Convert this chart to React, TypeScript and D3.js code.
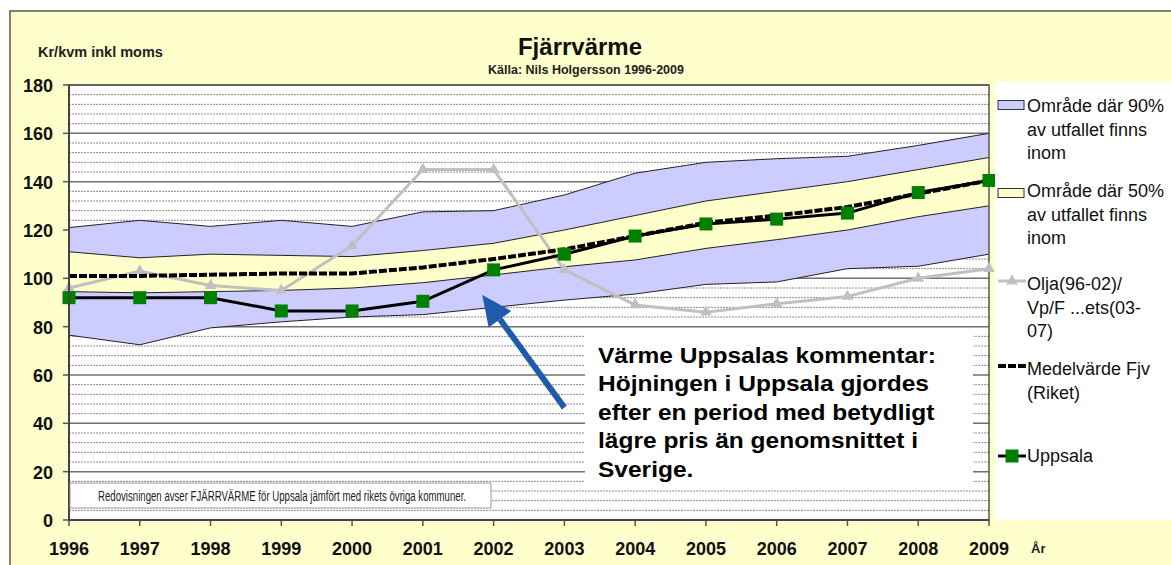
import React from "react";
import * as d3 from "d3";

const years = [1996, 1997, 1998, 1999, 2000, 2001, 2002, 2003, 2004, 2005, 2006, 2007, 2008, 2009];
const p95 = [121, 124, 121.5, 124, 121.5, 127.5, 128, 134.5, 143.5, 148, 149.5, 150.5, 155, 160];
const p75 = [111, 108.5, 110, 109.5, 109, 111.5, 114.5, 120, 126, 132, 136, 140, 145, 150];
const p25 = [94.5, 94, 94.5, 95, 96, 98.2, 101.4, 104.8, 107.6, 112.4, 116, 120, 125.5, 130];
const p5 = [76.5, 72.5, 79.5, 82, 84, 85, 88, 91, 93.5, 97.5, 98.5, 104, 105, 110];
const medel = [101, 101, 101.5, 102, 102, 104.5, 108, 112, 117.5, 123, 126, 129.5, 135, 140.5];
const uppsala = [92, 92, 92, 86.5, 86.5, 90.5, 103.5, 110, 117.5, 122.5, 124.5, 127, 135.5, 140.5];
const olja = [96, 103, 97, 95, 113.5, 145, 145, 103.5, 89, 86, 89.5, 92.5, 100, 104];
const yTicks = [0, 20, 40, 60, 80, 100, 120, 140, 160, 180];

const legendItems = [
  { key: "band90", lines: ["Område där 90%", "av utfallet finns", "inom"] },
  { key: "band50", lines: ["Område där 50%", "av utfallet finns", "inom"] },
  { key: "olja", lines: ["Olja(96-02)/", "Vp/F ...ets(03-", "07)"] },
  { key: "medel", lines: ["Medelvärde Fjv", "(Riket)"] },
  { key: "uppsala", lines: ["Uppsala"] },
];
const commentLines = [
  "Värme Uppsalas kommentar:",
  "Höjningen i Uppsala gjordes",
  "efter en period med betydligt",
  "lägre pris än genomsnittet i",
  "Sverige.",
];
const noteText = "Redovisningen avser FJÄRRVÄRME för Uppsala jämfört med rikets övriga kommuner.";

const W = 1171, H = 565;
const LAV = "#CCCCFF", YEL = "#FFFFCC", BG = "#FFFFCC";
const FONT = "'Liberation Sans', Arial, sans-serif";

export default function App() {
  const x = d3.scaleLinear().domain([1996, 2009]).range([69, 989]);
  const y = d3.scaleLinear().domain([0, 180]).range([520, 85]);
  const idx = years.map((_, i) => i);
  const band = (lo: number[], hi: number[]) =>
    d3.area<number>().x((i) => x(years[i])).y0((i) => y(lo[i])).y1((i) => y(hi[i]))(idx) || "";
  const line = (v: number[]) => d3.line<number>().x((i) => x(years[i])).y((i) => y(v[i]))(idx) || "";
  const minor = d3.range(0, 181, 4).filter((v) => v % 20 !== 0);
  const tri = d3.symbol().type(d3.symbolTriangle).size(60)() || "";

  const tipX = x(2001.84), tipY = y(93.1);
  const tailX = x(2003.0), tailY = y(46.5);
  const ang = Math.atan2(tipY - tailY, tipX - tailX);
  const headLen = 30, headW = 14;
  const bx = tipX - headLen * Math.cos(ang), by = tipY - headLen * Math.sin(ang);
  const px = -Math.sin(ang), py = Math.cos(ang);

  const legendY = [112, 197, 290, 375, 462];
  const legendSym = [105, 193, 281, 366, 456];

  return (
    <svg width={W} height={H} style={{ position: "absolute", left: 0, top: 0 }} fontFamily={FONT}>
      <rect x={0} y={0} width={W} height={H} fill="#fff" />
      <rect x={10} y={11} width={W} height={H} fill={BG} stroke="#555" strokeWidth={1.5} />
      <rect x={x(1996)} y={y(180)} width={x(2009) - x(1996)} height={y(0) - y(180)} fill="#fff" />
      {minor.map((v) => (
        <line key={"m" + v} x1={x(1996)} x2={x(2009)} y1={y(v)} y2={y(v)} stroke="#8a8a8a" strokeWidth={1} strokeDasharray="2,1" />
      ))}
      {yTicks.map((v) => (
        <line key={"g" + v} x1={x(1996)} x2={x(2009)} y1={y(v)} y2={y(v)} stroke="#6f6f6f" strokeWidth={1.5} />
      ))}
      <path d={band(p5, p95)} fill={LAV} />
      <path d={band(p25, p75)} fill={YEL} />
      {[p5, p25, p75, p95].map((v, k) => (
        <path key={"b" + k} d={line(v)} fill="none" stroke="#222" strokeWidth={1} />
      ))}
      <rect x={x(1996)} y={y(180)} width={x(2009) - x(1996)} height={y(0) - y(180)} fill="none" stroke="#555" strokeWidth={1.5} />
      <path d={line(olja)} fill="none" stroke="#C0C0C0" strokeWidth={3} />
      {olja.map((v, i) => (
        <path key={"t" + i} d={tri} transform={`translate(${x(years[i])},${y(v)})`} fill="#C0C0C0" />
      ))}
      <path d={line(medel)} fill="none" stroke="#000" strokeWidth={4} strokeDasharray="8,2" />
      <path d={line(uppsala)} fill="none" stroke="#000" strokeWidth={3} />
      {uppsala.map((v, i) => (
        <rect key={"u" + i} x={x(years[i]) - 6.5} y={y(v) - 6.5} width={13} height={13} fill="#008000" />
      ))}
      {yTicks.map((v) => (
        <g key={"yt" + v}>
          <line x1={x(1996) - 6} x2={x(1996)} y1={y(v)} y2={y(v)} stroke="#555" strokeWidth={1.5} />
          <text x={53} y={y(v) + 7} textAnchor="end" fontSize={18} fontWeight="bold" fill="#111">{v}</text>
        </g>
      ))}
      {years.map((yr) => (
        <g key={"xt" + yr}>
          <line x1={x(yr)} x2={x(yr)} y1={y(0)} y2={y(0) + 6} stroke="#555" strokeWidth={1.5} />
          <text x={x(yr)} y={555} textAnchor="middle" fontSize={18} fontWeight="bold" fill="#111">{yr}</text>
        </g>
      ))}
      <line x1={x(1996)} x2={x(2009)} y1={y(0)} y2={y(0)} stroke="#444" strokeWidth={2} />
      <line x1={x(1996)} x2={x(1996)} y1={y(0)} y2={y(180)} stroke="#444" strokeWidth={2} />
      <text x={1031} y={553} fontSize={13} fontWeight="bold" fill="#222">År</text>
      <text x={580} y={55} textAnchor="middle" fontSize={24} fontWeight="bold" fill="#111">Fjärrvärme</text>
      <text x={586} y={74} textAnchor="middle" fontSize={12.5} fontWeight="bold" fill="#222">Källa: Nils Holgersson 1996-2009</text>
      <text x={38} y={57} fontSize={14.5} fontWeight="bold" fill="#222">Kr/kvm inkl moms</text>
      <rect x={585} y={328} width={388} height={154} fill="#fff" />
      <g transform="translate(598,0) scale(1.115,1)">
        {commentLines.map((t, i) => (
          <text key={"c" + i} x={0} y={363 + i * 28.4} fontSize={22} fontWeight="bold" fill="#000">{t}</text>
        ))}
      </g>
      <rect x={70} y={483} width={421} height={25} fill="#fff" stroke="#999" strokeWidth={1} />
      <text x={98} y={500.5} fontSize={14} fill="#222" textLength={368} lengthAdjust="spacingAndGlyphs">{noteText}</text>
      <line x1={tailX} y1={tailY} x2={bx} y2={by} stroke="#1F5BAA" strokeWidth={6} />
      <path d={`M${tipX},${tipY}L${bx + px * headW},${by + py * headW}L${bx - px * headW},${by - py * headW}Z`} fill="#1F5BAA" />
      <rect x={995} y={82} width={W - 995} height={438} fill="#fff" />
      {legendItems.map((it, k) => (
        <g key={it.key}>
          {it.key === "band90" && <rect x={998} y={legendSym[k] - 4.5} width={26} height={9} fill={LAV} stroke="#333" strokeWidth={1} />}
          {it.key === "band50" && <rect x={998} y={legendSym[k] - 4.5} width={26} height={9} fill={YEL} stroke="#333" strokeWidth={1} />}
          {it.key === "olja" && (
            <g>
              <line x1={998} x2={1026} y1={legendSym[k]} y2={legendSym[k]} stroke="#C0C0C0" strokeWidth={3} />
              <path d={tri} transform={`translate(1012,${legendSym[k]})`} fill="#C0C0C0" />
            </g>
          )}
          {it.key === "medel" && <line x1={998} x2={1026} y1={legendSym[k]} y2={legendSym[k]} stroke="#000" strokeWidth={4} strokeDasharray="8,2" />}
          {it.key === "uppsala" && (
            <g>
              <line x1={998} x2={1026} y1={legendSym[k]} y2={legendSym[k]} stroke="#000" strokeWidth={3} />
              <rect x={1005.5} y={legendSym[k] - 6.5} width={13} height={13} fill="#008000" />
            </g>
          )}
          {it.lines.map((l, j) => (
            <text key={j} x={1027} y={legendY[k] + j * 23.5} fontSize={18} fill="#111">{l}</text>
          ))}
        </g>
      ))}
    </svg>
  );
}
